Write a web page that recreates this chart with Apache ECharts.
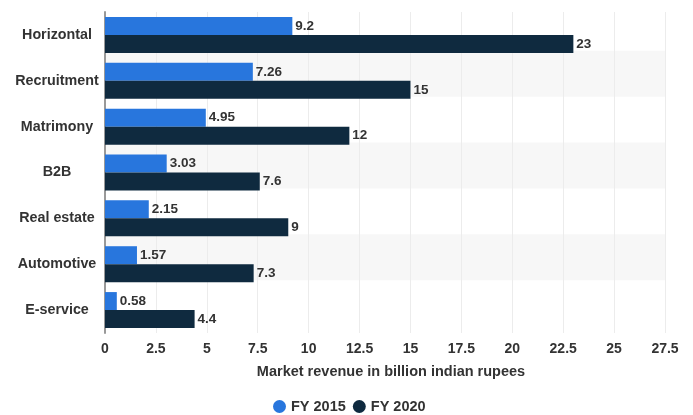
<!DOCTYPE html>
<html><head><meta charset="utf-8">
<script src="https://cdn.jsdelivr.net/npm/echarts@6/dist/echarts.min.js"></script>
<style>html,body{margin:0;padding:0;background:#fff}#c{width:693px;height:415px}</style>
</head><body><div id="c"></div>
<script>
const categories = ['Horizontal','Recruitment','Matrimony','B2B','Real estate','Automotive','E-service'];
const fy2015 = [9.2, 7.26, 4.95, 3.03, 2.15, 1.57, 0.58];
const fy2020 = [23, 15, 12, 7.6, 9, 7.3, 4.4];
const seriesNames = ['FY 2015','FY 2020'];
const axisTitle = 'Market revenue in billion indian rupees';

const font = 'Arial, "Liberation Sans", sans-serif';
const chart = echarts.init(document.getElementById('c'), null, {renderer:'canvas'});
const lbl = {show:true, position:'right', distance:3, color:'#333', fontWeight:'bold', fontSize:13.5, fontFamily:font};
chart.setOption({
  animation:false,
  textStyle:{fontFamily:font},
  grid:[
    {left:105, right:28, top:12, height:321, containLabel:false},
    {left:105, right:28, top:5, height:321, containLabel:false}
  ],
  legend:{
    data:seriesNames, left:273, top:394, padding:[5,5,5,0], icon:'circle', itemWidth:13, itemHeight:13, itemGap:7,
    textStyle:{color:'#333', fontWeight:'bold', fontSize:14.5, lineHeight:14, fontFamily:font}
  },
  xAxis:[
    {type:'value', gridIndex:0, min:0, max:27.5, interval:2.5,
     name:axisTitle, nameLocation:'middle', nameGap:31,
     nameTextStyle:{color:'#333', fontWeight:'bold', fontSize:14.5, fontFamily:font, padding:[0,0,0,12]},
     axisLine:{show:false}, axisTick:{show:false},
     axisLabel:{color:'#333', fontWeight:'bold', fontSize:14, margin:9, fontFamily:font},
     splitLine:{show:true, lineStyle:{color:'#ececec', width:1}}},
    {type:'value', gridIndex:1, min:0, max:27.5, show:false}
  ],
  yAxis:[
    {type:'category', gridIndex:0, data:categories, inverse:true,
     axisLine:{show:true, lineStyle:{color:'#999', width:2}}, axisTick:{show:false},
     axisLabel:{color:'#333', fontWeight:'bold', fontSize:14.3, align:'center', margin:48, fontFamily:font},
     splitLine:{show:false}},
    {type:'category', gridIndex:1, data:categories, inverse:true, z:-1,
     axisLine:{show:false}, axisTick:{show:false}, axisLabel:{show:false},
     splitArea:{show:true, areaStyle:{color:['rgba(255,255,255,0)','#f7f7f7']}}}
  ],
  series:[
    {name:seriesNames[0], type:'bar', data:fy2015, barWidth:18, barGap:'0%', itemStyle:{color:'#2876dd'}, label:lbl},
    {name:seriesNames[1], type:'bar', data:fy2020, barWidth:18, barGap:'0%', itemStyle:{color:'#0f2a3f'}, label:lbl}
  ]
});
</script></body></html>
